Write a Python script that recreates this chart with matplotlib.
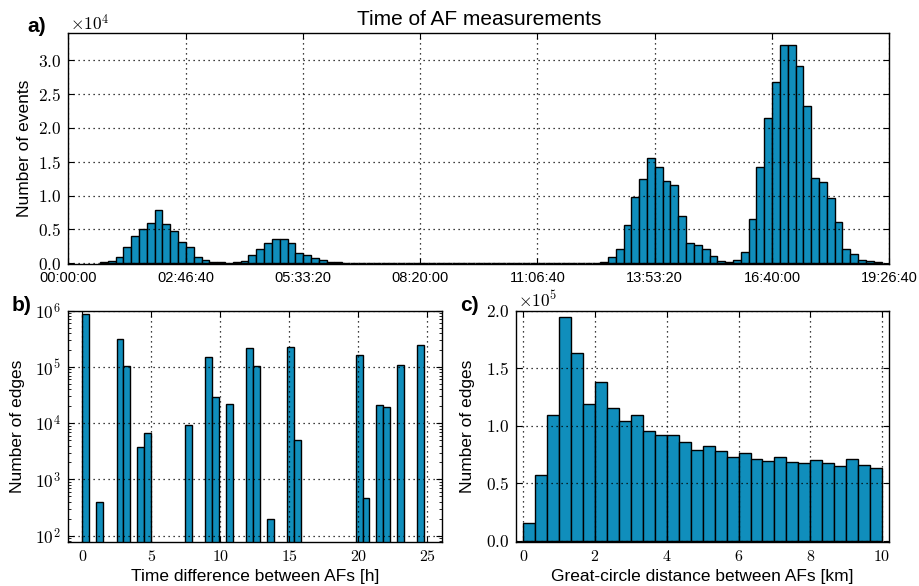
import numpy as np
import matplotlib
matplotlib.use("Agg")
import matplotlib.pyplot as plt
from matplotlib.ticker import FixedLocator, FuncFormatter, LogLocator, NullFormatter, MultipleLocator

# ---------------- data ----------------
# a) histogram of measurement times (seconds after midnight), 100 bins
time_range = (2700, 69340)
time_counts = [
    150, 300, 1000, 2400, 4100, 5100, 6000, 7900, 5800, 4750,
    3150, 2350, 1000, 440, 250, 150, 100, 150, 400, 1180,
    2170, 3000, 3600, 3600, 3060, 1480, 1280, 790, 440, 250,
    150, 100, 60, 0, 0, 0, 0, 0, 0, 0,
    0, 0, 0, 0, 0, 0, 0, 0, 0, 0,
    0, 0, 0, 0, 0, 0, 0, 0, 0, 0,
    0, 0, 30, 80, 250, 890, 2170, 5680, 9870, 12490,
    15500, 14260, 12100, 11500, 7060, 3010, 2710, 2070, 1140, 400,
    150, 500, 1730, 6500, 14170, 21520, 26800, 32330, 32230, 29200,
    23300, 12540, 12040, 9720, 6170, 2170, 1330, 500, 300, 150,
]
time_ticks = [0, 10000, 20000, 30000, 40000, 50000, 60000, 70000]

# b) time difference between AFs [h], 50 bins
dt_range = (0.0, 24.75)
dt_counts = [
    8.7e5, 0, 396, 0, 0, 3.18e5, 1.04e5, 0, 3750, 6640,
    0, 0, 0, 0, 0, 9460, 0, 0, 1.52e5, 2.97e4,
    0, 2.23e4, 0, 0, 2.2e5, 1.04e5, 0, 200, 0, 0,
    2.26e5, 5060, 0, 0, 0, 0, 0, 0, 0, 0,
    1.61e5, 460, 0, 2.1e4, 1.92e4, 0, 1.1e5, 0, 0, 2.49e5,
]

# c) great-circle distance between AFs [km], 30 bins
dist_range = (0.0, 10.0)
dist_counts = [
    0.155e5, 0.569e5, 1.096e5, 1.942e5, 1.630e5, 1.192e5, 1.382e5, 1.157e5, 1.041e5, 1.096e5,
    0.950e5, 0.915e5, 0.921e5, 0.854e5, 0.787e5, 0.819e5, 0.778e5, 0.723e5, 0.758e5, 0.714e5,
    0.691e5, 0.729e5, 0.688e5, 0.671e5, 0.700e5, 0.676e5, 0.647e5, 0.706e5, 0.656e5, 0.630e5,
]

# ---------------- style ----------------
plt.rcParams.update({
    "font.family": ["Liberation Sans", "DejaVu Sans"],
    "mathtext.fontset": "cm",
    "xtick.direction": "in",
    "ytick.direction": "in",
    "xtick.top": True,
    "ytick.right": True,
    "axes.linewidth": 1.0,
    "xtick.major.size": 4,
    "ytick.major.size": 4,
    "xtick.minor.size": 2,
    "ytick.minor.size": 2,
    "xtick.major.pad": 5,
    "ytick.major.pad": 5,
})

BAR = "#108ebc"
EDGE = "black"
GRID = dict(color="black", linestyle=(0, (1, 3)), linewidth=0.9)

fig = plt.figure(figsize=(9.2, 5.86), dpi=100)
axa = fig.add_axes([0.0742, 0.5490, 0.8924, 0.3942])
axb = fig.add_axes([0.0739, 0.0751, 0.4065, 0.3947])
axc = fig.add_axes([0.5609, 0.0751, 0.4057, 0.3947])

# ---------------- panel a ----------------
edges_a = np.linspace(time_range[0], time_range[1], len(time_counts) + 1)
axa.bar(edges_a[:-1], time_counts, width=np.diff(edges_a), align="edge",
        color=BAR, edgecolor=EDGE, linewidth=1.0, zorder=2)
axa.set_xlim(0, 70000)
axa.set_ylim(-150, 34000)
axa.xaxis.set_major_locator(FixedLocator(time_ticks))
axa.xaxis.set_major_formatter(FuncFormatter(
    lambda v, p: "%02d:%02d:%02d" % (int(v) // 3600, (int(v) % 3600) // 60, int(v) % 60)))
axa.yaxis.set_major_locator(MultipleLocator(5000))
axa.yaxis.set_major_formatter(FuncFormatter(lambda v, p: r"$%.1f$" % (v / 1e4)))
axa.tick_params(axis="x", labelsize=10.5)
axa.tick_params(axis="y", labelsize=12.5)
axa.grid(True, **GRID)
axa.set_axisbelow(False)
axa.set_ylabel("Number of events", fontsize=12.5)
axa.yaxis.set_label_coords(-0.044, 0.5)
axa.set_title("Time of AF measurements", fontsize=15, pad=6)

# ---------------- panel b ----------------
edges_b = np.linspace(dt_range[0], dt_range[1], len(dt_counts) + 1)
cb = np.array(dt_counts)
mask = cb > 0
axb.bar(edges_b[:-1][mask], cb[mask], width=np.diff(edges_b)[mask], align="edge",
        color=BAR, edgecolor=EDGE, linewidth=1.0, zorder=2)
axb.set_yscale("log")
axb.set_xlim(-1.05, 26.05)
axb.set_ylim(77, 1e6)
axb.xaxis.set_major_locator(FixedLocator([0, 5, 10, 15, 20, 25]))
axb.xaxis.set_major_formatter(FuncFormatter(lambda v, p: r"$%d$" % v))
axb.yaxis.set_major_locator(LogLocator(base=10))
axb.yaxis.set_major_formatter(FuncFormatter(lambda v, p: r"$10^{%d}$" % round(np.log10(v))))
axb.yaxis.set_minor_locator(LogLocator(base=10, subs=np.arange(2, 10)))
axb.yaxis.set_minor_formatter(NullFormatter())
axb.tick_params(axis="x", labelsize=11.5)
axb.tick_params(axis="y", labelsize=12.5)
axb.grid(True, which="major", **GRID)
axb.set_axisbelow(False)
axb.set_ylabel("Number of edges", fontsize=12.5)
axb.yaxis.set_label_coords(-0.115, 0.5)
axb.set_xlabel("Time difference between AFs [h]", fontsize=12.5)

# ---------------- panel c ----------------
edges_c = np.linspace(dist_range[0], dist_range[1], len(dist_counts) + 1)
axc.bar(edges_c[:-1], dist_counts, width=np.diff(edges_c), align="edge",
        color=BAR, edgecolor=EDGE, linewidth=1.0, zorder=2)
axc.set_xlim(-0.2, 10.2)
axc.set_ylim(-1200, 2.0e5)
axc.xaxis.set_major_locator(FixedLocator([0, 2, 4, 6, 8, 10]))
axc.xaxis.set_major_formatter(FuncFormatter(lambda v, p: r"$%d$" % v))
axc.yaxis.set_major_locator(FixedLocator([0, 0.5e5, 1.0e5, 1.5e5, 2.0e5]))
axc.yaxis.set_major_formatter(FuncFormatter(lambda v, p: r"$%.1f$" % (v / 1e5)))
axc.tick_params(axis="x", labelsize=11.5)
axc.tick_params(axis="y", labelsize=12.5)
axc.grid(True, **GRID)
axc.set_axisbelow(False)
axc.set_ylabel("Number of edges", fontsize=12.5)
axc.yaxis.set_label_coords(-0.110, 0.5)
axc.set_xlabel("Great-circle distance between AFs [km]", fontsize=12.5)

# ---------------- annotations ----------------
fig.text(70 / 920, 1 - 30 / 586, r"$\times10^{4}$", fontsize=12.5, ha="left", va="baseline")
fig.text(518 / 920, 1 - 307 / 586, r"$\times10^{5}$", fontsize=12.5, ha="left", va="baseline")
fig.text(27 / 920, 1 - 32 / 586, "a)", fontsize=15, fontweight="bold", ha="left", va="baseline")
fig.text(12 / 920, 1 - 311 / 586, "b)", fontsize=15, fontweight="bold", ha="left", va="baseline")
fig.text(460 / 920, 1 - 311 / 586, "c)", fontsize=15, fontweight="bold", ha="left", va="baseline")

fig.savefig("out.png", dpi=100)
